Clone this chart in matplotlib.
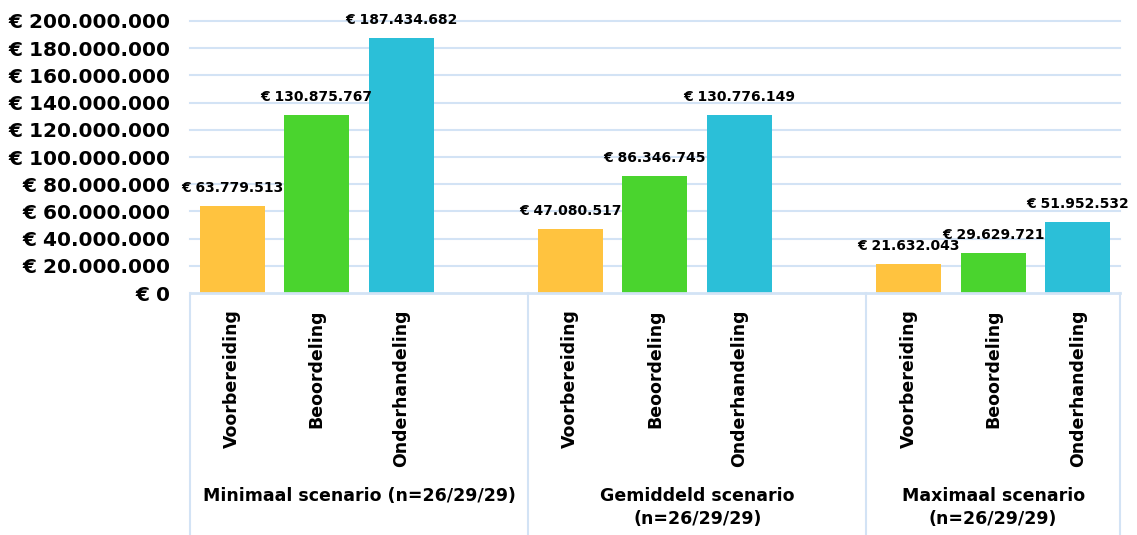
import numpy as np
import matplotlib
matplotlib.use("Agg")
import matplotlib.pyplot as plt
import matplotlib.transforms as mtransforms

plt.rcParams['font.family'] = ['DejaVu Sans']

# data
groups = ["Minimaal scenario (n=26/29/29)", "Gemiddeld scenario\n(n=26/29/29)",
          "Maximaal scenario\n(n=26/29/29)"]
phases = ["Voorbereiding", "Beoordeling", "Onderhandeling"]
minimaal = [63779513, 130875767, 187434682]
gemiddeld = [47080517, 86346745, 130776149]
maximaal = [21632043, 29629721, 51952532]
colors = ["#FFC33F", "#4AD42E", "#2BBFD8"]
grid_col = "#D3E3F5"


def euro(v):
    return "€ " + f"{v:,.0f}".replace(",", ".")


fig = plt.figure(figsize=(11.37, 5.35), dpi=100)
ax = fig.add_axes([0.167, 0.452, 0.818, 0.509])

series = [minimaal, gemiddeld, maximaal]
starts = [0, 4, 8]
for g, vals in enumerate(series):
    xs = np.arange(3) + starts[g]
    bars = ax.bar(xs, vals, width=0.77, color=colors, zorder=3)
    for b, v in zip(bars, vals):
        ax.annotate(euro(v), (b.get_x() + b.get_width() / 2, v),
                    xytext=(0, 8), textcoords="offset points",
                    ha="center", va="bottom", fontsize=10, fontweight="bold")

ax.set_xlim(-0.5, 10.5)
ax.set_ylim(0, 200000000)
ticks = np.arange(0, 200000001, 20000000)
ax.set_yticks(ticks)
ax.set_yticklabels([euro(t) for t in ticks], fontsize=14.5, fontweight="bold")
ax.tick_params(axis="y", length=0, pad=14)
ax.set_xticks([])
for s in ax.spines.values():
    s.set_visible(False)
for t in ticks[1:]:
    ax.axhline(t, color=grid_col, lw=1.5, zorder=0, clip_on=False)
ax.axhline(0, color=grid_col, lw=2, zorder=4, clip_on=False)

trans = mtransforms.blended_transform_factory(ax.transData, ax.transAxes)
for xs in [-0.5, 3.5, 7.5, 10.5]:
    ax.plot([xs, xs], [0, -0.9], color=grid_col, lw=1.5, transform=trans, clip_on=False)

for g in range(3):
    for i, p in enumerate(phases):
        ax.text(starts[g] + i, -0.06, p, rotation=90, ha="center", va="top",
                fontsize=12.5, fontweight="bold", transform=trans)

centers = [1.5, 5.5, 9]
for c, name in zip(centers, groups):
    ax.text(c, -0.71, name, ha="center", va="top", fontsize=12.5, fontweight="bold",
            transform=trans, linespacing=1.4)

fig.savefig("out.png", dpi=100)
